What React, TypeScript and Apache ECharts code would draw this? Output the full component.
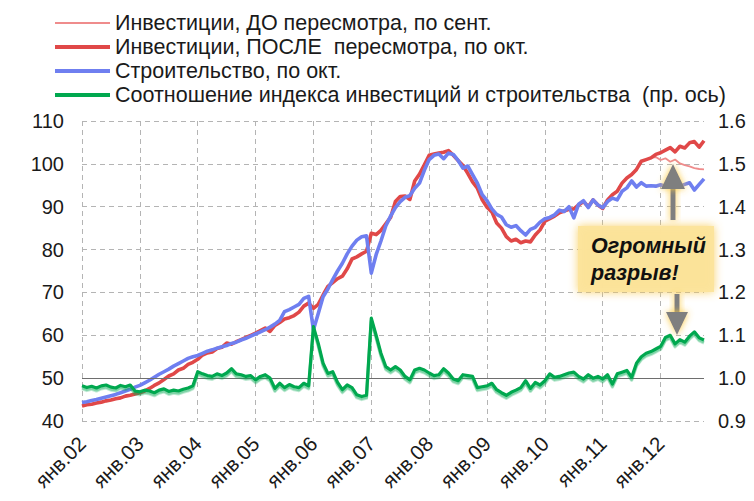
import React, { useEffect, useRef } from "react";
import * as echarts from "echarts";

// ---- data (monthly, янв.2002 – окт.2012) ----
const monthNames = ["янв", "фев", "мар", "апр", "май", "июн", "июл", "авг", "сен", "окт", "ноя", "дек"];
const yearLabels = ["02", "03", "04", "05", "06", "07", "08", "09", "10", "11", "12"];
const monthsInLastYear = 10;

const invAfter = [
  43.5, 43.8, 43.9, 44.2, 44.4, 44.7, 44.9, 45.2, 45.4, 45.8, 46.0, 46.3,
  46.6, 47.0, 47.6, 48.3, 48.9, 49.7, 50.5, 51.0, 51.9, 52.3, 53.2, 53.7,
  54.4, 55.4, 55.9, 56.1, 56.9, 57.2, 58.2, 57.9, 58.5, 59.0, 59.5, 60.0,
  60.5, 61.1, 61.7, 60.9, 62.3, 63.0, 63.8, 64.1, 64.6, 65.4, 66.8, 67.5,
  66.3, 67.2, 69.4, 71.4, 72.3, 73.2, 73.8, 75.5, 77.8, 78.3, 79.0, 79.6,
  83.8, 83.5, 84.5, 86.0, 87.5, 91.2, 92.4, 92.5, 91.7, 96.0, 97.6, 99.8,
  102.0, 102.3, 102.5, 102.7, 103.1, 102.0, 100.8, 99.6, 97.8, 95.8, 94.3, 91.6,
  89.9, 88.8, 86.2, 85.0, 83.0, 82.0, 82.4, 81.6, 82.0, 81.8, 83.4, 84.6,
  86.6, 87.2, 87.8, 88.6, 89.0, 89.4, 89.5, 90.4, 91.2, 90.0, 91.6, 90.4,
  89.6, 91.6, 92.8, 93.6, 95.5, 96.7, 97.5, 98.7, 100.6, 101.0, 101.4, 102.2,
  102.6, 103.2, 103.8, 102.8, 104.1, 103.7, 104.9, 105.2, 103.9, 105.4,
];

// before revision: identical to the revised series until late 2011, then diverges
const invBeforeTail = [101.6, 100.9, 101.3, 100.5, 101.0, 100.1, 99.7, 99.4, 99.0, 98.8, 98.7];
const invBefore = [...invAfter.slice(0, invAfter.length - invBeforeTail.length), ...invBeforeTail];

const construction = [
  44.3, 44.5, 44.8, 45.0, 45.3, 45.6, 45.9, 46.2, 46.6, 47.0, 47.4, 47.9,
  48.3, 48.9, 49.5, 50.2, 50.9, 51.5, 52.1, 52.8, 53.4, 54.0, 54.6, 55.0,
  55.3, 55.8, 56.3, 56.6, 57.0, 57.3, 57.6, 58.1, 58.4, 58.9, 59.3, 59.8,
  60.3, 60.8, 61.3, 61.9, 62.6, 63.5, 65.5, 66.0, 66.6, 67.2, 68.6, 69.1,
  61.3, 65.1, 69.0, 70.8, 73.0, 75.0, 76.8, 79.0, 80.8, 82.2, 83.0, 83.2,
  74.5, 78.8, 82.0, 85.5, 87.8, 89.8, 91.2, 92.2, 92.6, 94.3, 95.5, 98.5,
  101.0, 102.0, 102.3, 101.2, 102.5, 102.2, 100.8, 99.0, 99.5, 97.5, 95.5, 92.8,
  91.4, 89.5, 88.2, 87.6, 85.8, 85.2, 85.6, 84.4, 83.4, 84.7, 85.2, 86.4,
  87.2, 87.5, 88.1, 89.2, 88.9, 90.0, 87.4, 90.6, 91.4, 89.8, 91.6, 90.4,
  89.8, 91.2, 92.0, 91.6, 93.6, 94.4, 96.0, 94.6, 95.6, 94.8, 94.9, 94.8,
  95.1, 94.8, 95.2, 94.9, 94.8, 95.2, 95.6, 93.9, 95.2, 96.5,
];

const ratio = [
  0.982, 0.978, 0.981, 0.977, 0.982, 0.984, 0.979, 0.977, 0.983, 0.980, 0.984, 0.970,
  0.968, 0.972, 0.970, 0.966, 0.972, 0.975, 0.969, 0.972, 0.970, 0.974, 0.977, 0.982,
  1.015, 1.010, 1.006, 1.004, 1.010, 1.006, 1.012, 1.022, 1.010, 1.008, 1.004, 1.006,
  0.996, 1.004, 1.008, 1.000, 0.976, 0.988, 0.978, 0.985, 0.980, 0.978, 0.988, 0.982,
  1.120, 1.081, 1.035, 1.011, 1.015, 0.990, 0.973, 0.984, 0.978, 0.961, 0.957, 0.960,
  1.140, 1.100, 1.058, 1.027, 1.019, 1.027, 1.019, 1.004, 0.996, 1.019, 1.023, 1.019,
  1.012, 1.006, 1.008, 1.022, 1.012, 0.998, 0.994, 1.008, 1.006, 1.004, 0.978, 0.980,
  0.982, 0.988, 0.973, 0.966, 0.960, 0.967, 0.972, 0.978, 0.994, 0.976, 0.990, 0.984,
  0.994, 1.010, 1.002, 1.004, 1.008, 1.012, 1.014, 1.004, 0.998, 1.008, 1.000, 1.004,
  0.998, 1.008, 0.986, 1.010, 1.014, 1.018, 1.002, 1.035, 1.050, 1.058, 1.062, 1.068,
  1.074, 1.095, 1.100, 1.080, 1.090, 1.084, 1.098, 1.108, 1.094, 1.089,
];

const seriesNames = [
  "Инвестиции, ДО пересмотра, по сент.",
  "Инвестиции, ПОСЛЕ  пересмотра, по окт.",
  "Строительство, по окт.",
  "Соотношение индекса инвестиций и строительства  (пр. ось)",
];

const leftAxis = { min: 40, max: 110, interval: 10 };
const rightAxis = { min: 0.9, max: 1.6, interval: 0.1 };
const baselineLeft = 50; // equals 1.0 on the right axis

const annotationLines = ["Огромный", "разрыв!"];

// categories built from month names and years
const categories: string[] = [];
yearLabels.forEach((y, yi) => {
  const n = yi === yearLabels.length - 1 ? monthsInLastYear : 12;
  for (let m = 0; m < n; m++) categories.push(`${monthNames[m]}.${y}`);
});

const FONT = '"Liberation Sans", Arial, sans-serif';
const TEXT = "#1a1a1a";
const GRID = "#b4b4b4";

const thinIcon = "path://M0 0H55V2H0Z";
const thickIcon = "path://M0 0H55V4H0Z";

export default function App() {
  const ref = useRef<HTMLDivElement>(null);

  useEffect(() => {
    if (!ref.current) return;
    const chart = echarts.init(ref.current, undefined, { renderer: "svg" });
    const isJan = (idx: number) => idx % 12 === 0;
    const arrowColor = "#7f7f7f";
    const glow = { shadowBlur: 7, shadowColor: "rgba(250,200,60,0.95)" };
    const noteStyle = {
      fontSize: 21.5,
      fontWeight: "bold",
      fontStyle: "italic",
      fontFamily: FONT,
      fill: "#111",
      align: "left",
      verticalAlign: "middle",
    };

    chart.setOption({
      animation: false,
      textStyle: { fontFamily: FONT },
      grid: { left: 82, right: 50, top: 121, bottom: 80, containLabel: false },
      legend: {
        orient: "vertical",
        left: 55,
        top: 11,
        padding: 0,
        itemWidth: 55,
        itemHeight: 4,
        itemGap: 0,
        selectedMode: false,
        textStyle: { fontSize: 21.5, color: TEXT, fontFamily: FONT, lineHeight: 24 },
        data: [
          { name: seriesNames[0], icon: thinIcon },
          { name: seriesNames[1], icon: thickIcon },
          { name: seriesNames[2], icon: thickIcon },
          { name: seriesNames[3], icon: thickIcon },
        ],
      },
      xAxis: {
        type: "category",
        data: categories,
        boundaryGap: false,
        axisLine: { show: false },
        axisTick: { show: false },
        axisLabel: {
          interval: (idx: number) => isJan(idx),
          rotate: 45,
          margin: 19,
          fontSize: 20.5,
          color: TEXT,
          fontFamily: FONT,
        },
        splitLine: {
          show: true,
          interval: (idx: number) => isJan(idx),
          lineStyle: { color: GRID, type: [5, 4], width: 1 },
        },
      },
      yAxis: [
        {
          type: "value",
          min: leftAxis.min,
          max: leftAxis.max,
          interval: leftAxis.interval,
          axisLine: { show: false },
          axisTick: { show: false },
          axisLabel: { margin: 18, fontSize: 20, color: TEXT, fontFamily: FONT },
          splitLine: { show: true, lineStyle: { color: GRID, type: [5, 4], width: 1 } },
        },
        {
          type: "value",
          min: rightAxis.min,
          max: rightAxis.max,
          interval: rightAxis.interval,
          axisLine: { show: false },
          axisTick: { show: false },
          axisLabel: {
            margin: 14,
            fontSize: 20,
            color: TEXT,
            fontFamily: FONT,
            formatter: (v: number) => v.toFixed(1),
          },
          splitLine: { show: false },
        },
      ],
      series: [
        {
          name: seriesNames[0],
          type: "line",
          data: invBefore,
          yAxisIndex: 0,
          symbol: "none",
          color: "#ef8c8c",
          lineStyle: { width: 1.8, color: "#ef8c8c" },
          z: 2,
          markLine: {
            silent: true,
            symbol: ["none", "none"],
            label: { show: false },
            lineStyle: { color: "#6e6e6e", width: 1.2, type: "solid" },
            data: [{ yAxis: baselineLeft }],
          },
        },
        {
          name: seriesNames[1],
          type: "line",
          data: invAfter,
          yAxisIndex: 0,
          symbol: "none",
          color: "#e04848",
          lineStyle: { width: 3.6, color: "#e04848", join: "round" },
          z: 3,
        },
        {
          name: seriesNames[2],
          type: "line",
          data: construction,
          yAxisIndex: 0,
          symbol: "none",
          color: "#6f7ff0",
          lineStyle: { width: 3.6, color: "#6f7ff0", join: "round" },
          z: 4,
        },
        {
          name: seriesNames[3],
          type: "line",
          data: ratio,
          yAxisIndex: 1,
          symbol: "none",
          color: "#00a84f",
          lineStyle: {
            width: 3.2,
            color: "#00a84f",
            join: "round",
            shadowColor: "rgba(0,168,79,0.5)",
            shadowBlur: 1,
            shadowOffsetY: 2.5,
          },
          z: 5,
        },
      ],
      graphic: [
        {
          type: "rect",
          z: 100,
          shape: { x: 578, y: 226, width: 136, height: 66 },
          style: { fill: "rgba(252,228,155,0.95)", shadowBlur: 10, shadowColor: "rgba(248,205,90,0.95)" },
        },
        { type: "text", z: 101, x: 591, y: 246, style: { text: annotationLines[0], ...noteStyle } },
        { type: "text", z: 101, x: 591, y: 273, style: { text: annotationLines[1], ...noteStyle } },
        // upper arrow
        {
          type: "rect",
          z: 100,
          shape: { x: 670.5, y: 186, width: 5, height: 34 },
          style: { fill: arrowColor, ...glow },
        },
        {
          type: "polygon",
          z: 100,
          shape: { points: [[661, 189], [685, 189], [673, 164]] },
          style: { fill: arrowColor, ...glow },
        },
        // lower arrow
        {
          type: "rect",
          z: 100,
          shape: { x: 674.5, y: 294, width: 5, height: 21 },
          style: { fill: arrowColor, ...glow },
        },
        {
          type: "polygon",
          z: 100,
          shape: { points: [[666, 312], [688, 312], [677, 335]] },
          style: { fill: arrowColor, ...glow },
        },
      ],
    });
    return () => chart.dispose();
  }, []);

  return (
    <div
      ref={ref}
      style={{ position: "fixed", left: 0, top: 0, width: 754, height: 501, background: "#fff" }}
    />
  );
}
